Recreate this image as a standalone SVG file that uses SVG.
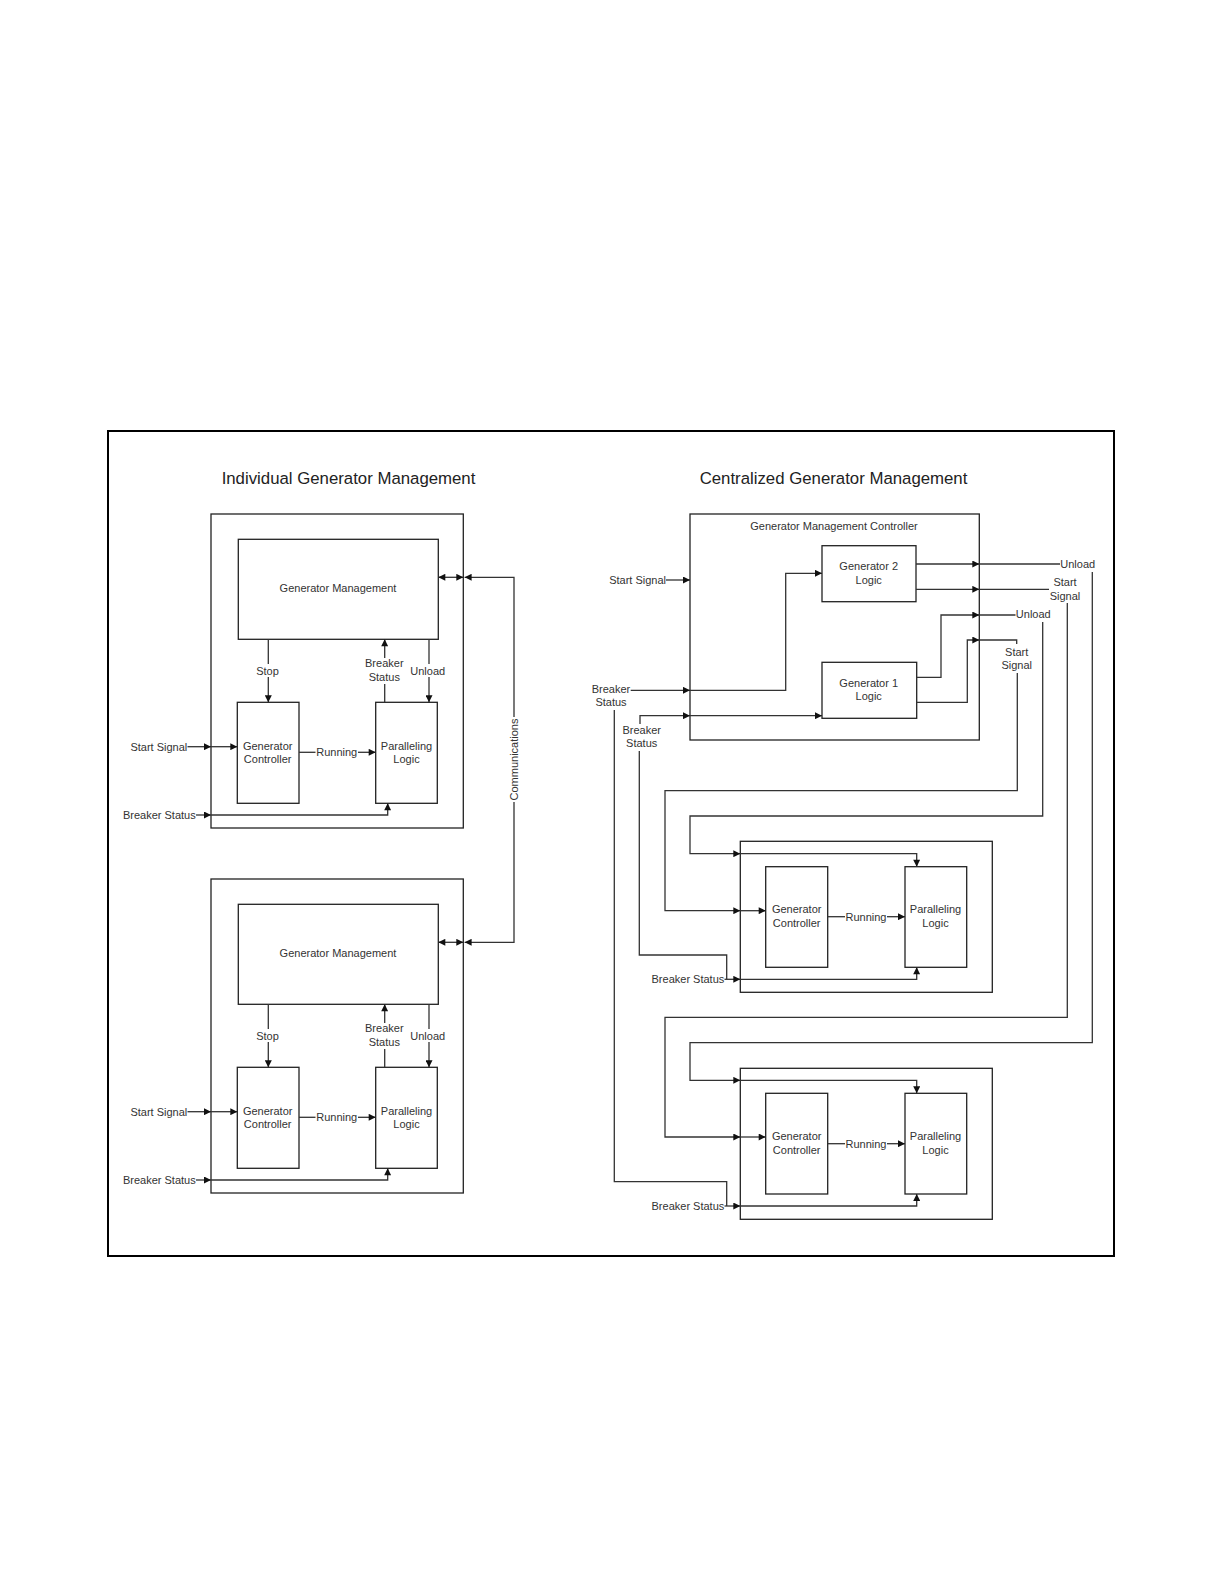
<svg xmlns="http://www.w3.org/2000/svg" width="1224" height="1584" viewBox="0 0 1224 1584">
<style>
.t{font-family:"Liberation Sans",Arial,sans-serif;font-size:11px;fill:#333}
.h{font-family:"Liberation Sans",Arial,sans-serif;font-size:16.8px;fill:#222;text-anchor:middle}
.m{text-anchor:middle}
.e{text-anchor:end}
.b{fill:#fff;stroke:#222;stroke-width:1.3}
.c{fill:none;stroke:#333;stroke-width:1.3}
.a{marker-end:url(#ar)}
.d{marker-start:url(#ar);marker-end:url(#ar)}
</style>
<defs>
<marker id="ar" viewBox="0 0 10 10" refX="10" refY="5" markerWidth="8" markerHeight="7" orient="auto-start-reverse" markerUnits="userSpaceOnUse"><path d="M0,0 L10,5 L0,10 z" fill="#111"/></marker>
</defs>
<rect width="1224" height="1584" fill="#fff"/>
<g id="frame"><rect x="108" y="431" width="1006" height="825" fill="none" stroke="#000" stroke-width="2"/></g>
<g id="titles">
<text class="h" x="348.5" y="484">Individual Generator Management</text>
<text class="h" x="833.5" y="484">Centralized Generator Management</text>
</g>

<!-- Left top module -->
<g id="left-top-module"><rect class="b" x="211" y="514" width="252.3" height="314"/></g>
<g id="left-top-gm"><rect class="b" x="238.3" y="539.3" width="200" height="100"/><text class="t m" x="338" y="592">Generator Management</text></g>
<g id="left-top-gc"><rect class="b" x="237.3" y="702.3" width="61.7" height="101"/><text class="t m" x="267.7" y="749.7">Generator</text><text class="t m" x="267.7" y="763">Controller</text></g>
<g id="left-top-pl"><rect class="b" x="375.7" y="702.3" width="61.6" height="101"/><text class="t m" x="406.5" y="749.7">Paralleling</text><text class="t m" x="406.5" y="763">Logic</text></g>

<!-- Left bottom module -->
<g id="left-bottom-module"><rect class="b" x="211" y="879" width="252.3" height="314"/></g>
<g id="left-bottom-gm"><rect class="b" x="238.3" y="904.3" width="200" height="100"/><text class="t m" x="338" y="957">Generator Management</text></g>
<g id="left-bottom-gc"><rect class="b" x="237.3" y="1067.3" width="61.7" height="101"/><text class="t m" x="267.7" y="1114.7">Generator</text><text class="t m" x="267.7" y="1128">Controller</text></g>
<g id="left-bottom-pl"><rect class="b" x="375.7" y="1067.3" width="61.6" height="101"/><text class="t m" x="406.5" y="1114.7">Paralleling</text><text class="t m" x="406.5" y="1128">Logic</text></g>

<!-- Right: controller -->
<g id="gmc"><rect class="b" x="690" y="514" width="289.3" height="226"/><text class="t m" x="834" y="529.7">Generator Management Controller</text></g>
<g id="gen2-logic"><rect class="b" x="822" y="545.7" width="94" height="56"/><text class="t m" x="868.7" y="570">Generator 2</text><text class="t m" x="868.7" y="584">Logic</text></g>
<g id="gen1-logic"><rect class="b" x="822" y="662.3" width="94.7" height="56"/><text class="t m" x="868.7" y="686.7">Generator 1</text><text class="t m" x="868.7" y="700">Logic</text></g>

<!-- Right middle module -->
<g id="right-mid-module"><rect class="b" x="740.3" y="841.3" width="252" height="151"/></g>
<g id="right-mid-gc"><rect class="b" x="765.7" y="866.7" width="62" height="100.6"/><text class="t m" x="796.7" y="913.3">Generator</text><text class="t m" x="796.7" y="926.7">Controller</text></g>
<g id="right-mid-pl"><rect class="b" x="905" y="866.7" width="61.7" height="100.6"/><text class="t m" x="935.5" y="913.3">Paralleling</text><text class="t m" x="935.5" y="926.7">Logic</text></g>

<!-- Right bottom module -->
<g id="right-bottom-module"><rect class="b" x="740.3" y="1068.3" width="252" height="151"/></g>
<g id="right-bottom-gc"><rect class="b" x="765.7" y="1093.3" width="62" height="100.7"/><text class="t m" x="796.7" y="1140.3">Generator</text><text class="t m" x="796.7" y="1153.7">Controller</text></g>
<g id="right-bottom-pl"><rect class="b" x="905" y="1093.3" width="61.7" height="100.7"/><text class="t m" x="935.5" y="1140.3">Paralleling</text><text class="t m" x="935.5" y="1153.7">Logic</text></g>

<g id="connectors">
<!-- left top -->
<path class="c" d="M268.3,639.3 V664"/><path class="c a" d="M268.3,677 V702.3"/>
<path class="c" d="M384.7,702.3 V684"/><path class="c a" d="M384.7,658 V639.3"/>
<path class="c" d="M429,639.3 V664"/><path class="c a" d="M429,677 V702.3"/>
<path class="c" d="M299,752.3 H315.5"/><path class="c a" d="M358,752.3 H375.7"/>
<path class="c a" d="M187.5,746.7 H211"/><path class="c a" d="M211,746.7 H237.3"/>
<path class="c a" d="M196,815 H211"/><path class="c a" d="M211,815 H387.7 V803.3"/>
<path class="c d" d="M438.3,577.3 H463.3"/>
<!-- left bottom -->
<path class="c" d="M268.3,1004.3 V1029"/><path class="c a" d="M268.3,1042 V1067.3"/>
<path class="c" d="M384.7,1067.3 V1049"/><path class="c a" d="M384.7,1023 V1004.3"/>
<path class="c" d="M429,1004.3 V1029"/><path class="c a" d="M429,1042 V1067.3"/>
<path class="c" d="M299,1117.3 H315.5"/><path class="c a" d="M358,1117.3 H375.7"/>
<path class="c a" d="M187.5,1111.7 H211"/><path class="c a" d="M211,1111.7 H237.3"/>
<path class="c a" d="M196,1180 H211"/><path class="c a" d="M211,1180 H387.7 V1168.3"/>
<path class="c d" d="M438.3,942.3 H463.3"/>
<!-- communications -->
<path class="c a" d="M514,717 V577.3 H464.6"/>
<path class="c a" d="M514,802 V942.3 H464.6"/>
<!-- right controller inputs -->
<path class="c a" d="M666,580 H690"/>
<path class="c a" d="M630.7,690.3 H690"/><path class="c a" d="M690,690.3 H785.7 V573.3 H822"/>
<path class="c a" d="M640,724 V715.7 H690"/><path class="c a" d="M690,715.7 H822"/>
<!-- gen2 outputs -->
<path class="c a" d="M916,564 H979.3"/><path class="c" d="M979.3,564 H1060"/>
<path class="c a" d="M916,589.3 H979.3"/><path class="c" d="M979.3,589.3 H1049"/>
<!-- gen1 outputs -->
<path class="c a" d="M916.7,677.3 H941 V615 H979.3"/><path class="c" d="M979.3,615 H1015.5"/>
<path class="c a" d="M916.7,702.3 H967.3 V640 H979.3"/><path class="c" d="M979.3,640 H1016.7 V644"/>
<!-- to middle module -->
<path class="c a" d="M1017.3,673 V790.7 H665 V910.7 H740.3"/><path class="c a" d="M740.3,910.7 H765.7"/>
<path class="c a" d="M1042.7,622 V816 H690 V853.7 H740.3"/><path class="c a" d="M740.3,853.7 H916.7 V866.7"/>
<path class="c" d="M827.7,916.7 H845"/><path class="c a" d="M887,916.7 H905"/>
<path class="c" d="M639.3,751 V955 H726.7 V979.3"/><path class="c a" d="M724.5,979.3 H740.3"/><path class="c a" d="M740.3,979.3 H916.7 V967.3"/>
<!-- to bottom module -->
<path class="c a" d="M1067.3,603 V1017.3 H665 V1137 H740.3"/><path class="c a" d="M740.3,1137 H765.7"/>
<path class="c a" d="M1092.3,572 V1042.7 H690 V1080.3 H740.3"/><path class="c a" d="M740.3,1080.3 H916.7 V1093.3"/>
<path class="c" d="M827.7,1143.7 H845"/><path class="c a" d="M887,1143.7 H905"/>
<path class="c" d="M614.3,710 V1181.7 H726.7 V1206"/><path class="c a" d="M724.5,1206 H740.3"/><path class="c a" d="M740.3,1206 H916.7 V1194"/>
</g>

<g id="labels">
<!-- left top -->
<text class="t m" x="267.5" y="674.7">Stop</text>
<text class="t m" x="384.3" y="667.3">Breaker</text><text class="t m" x="384.3" y="680.7">Status</text>
<text class="t m" x="427.7" y="674.7">Unload</text>
<text class="t m" x="336.7" y="756.3">Running</text>
<text class="t e" x="187.3" y="750.7">Start Signal</text>
<text class="t e" x="195.7" y="819">Breaker Status</text>
<!-- left bottom -->
<text class="t m" x="267.5" y="1039.7">Stop</text>
<text class="t m" x="384.3" y="1032.3">Breaker</text><text class="t m" x="384.3" y="1045.7">Status</text>
<text class="t m" x="427.7" y="1039.7">Unload</text>
<text class="t m" x="336.7" y="1121.3">Running</text>
<text class="t e" x="187.3" y="1115.7">Start Signal</text>
<text class="t e" x="195.7" y="1184">Breaker Status</text>
<text class="t m" transform="translate(518,759.5) rotate(-90)" x="0" y="0">Communications</text>
<!-- right -->
<text class="t e" x="666" y="584">Start Signal</text>
<text class="t m" x="611" y="693">Breaker</text><text class="t m" x="611" y="706.3">Status</text>
<text class="t m" x="641.7" y="734">Breaker</text><text class="t m" x="641.7" y="747.3">Status</text>
<text class="t m" x="1077.7" y="568">Unload</text>
<text class="t m" x="1065" y="585.7">Start</text><text class="t m" x="1065" y="599.7">Signal</text>
<text class="t m" x="1033.3" y="618">Unload</text>
<text class="t m" x="1016.7" y="655.7">Start</text><text class="t m" x="1016.7" y="669">Signal</text>
<text class="t m" x="866" y="920.7">Running</text>
<text class="t e" x="724.3" y="983.3">Breaker Status</text>
<text class="t m" x="866" y="1147.7">Running</text>
<text class="t e" x="724.3" y="1210">Breaker Status</text>
</g>
</svg>
